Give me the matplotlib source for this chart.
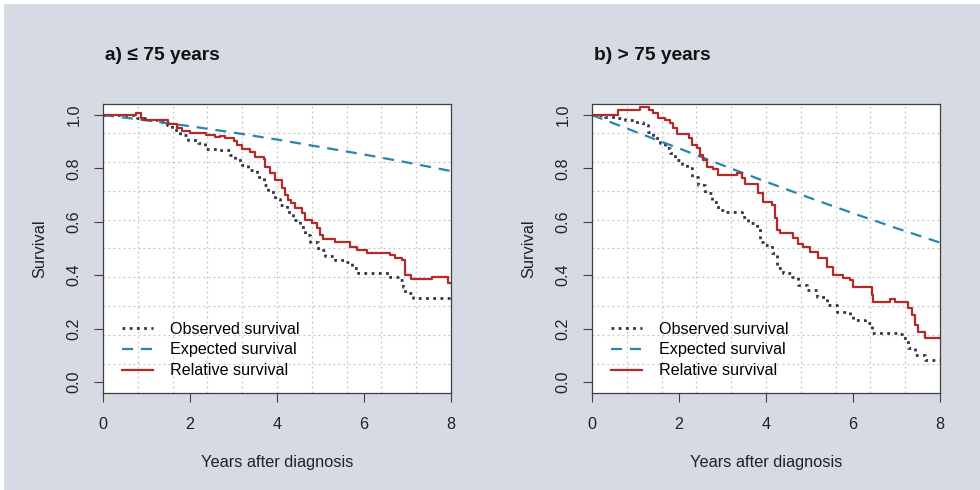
import numpy as np
import matplotlib
matplotlib.use("Agg")
import matplotlib.pyplot as plt
from matplotlib.patches import Rectangle

plt.rcParams['font.family'] = ['Liberation Sans', 'DejaVu Sans']

# expected survival, read at whole years
exp_years = [0, 1, 2, 3, 4, 5, 6, 7, 8]
exp_young = [1.0, 0.98, 0.958, 0.934, 0.908, 0.88, 0.852, 0.822, 0.79]
exp_old = [1.0, 0.937, 0.875, 0.812, 0.75, 0.69, 0.632, 0.576, 0.522]

# panel a) <= 75 years, step curves
obs_young_t = [0, 0.78, 0.97, 1.27, 1.46, 1.58, 1.77, 1.96, 2.19, 2.34, 2.61, 2.92,
               3.03, 3.19, 3.34, 3.53, 3.69, 3.8, 3.95, 4.07, 4.22, 4.37, 4.53, 4.64,
               4.76, 4.95, 5.1, 5.33, 5.6, 5.72, 5.87, 6.6, 6.83, 6.9, 6.94, 7.13,
               7.95, 8.0]
obs_young = [1.0, 0.99, 0.982, 0.975, 0.962, 0.944, 0.925, 0.906, 0.894, 0.874, 0.869, 0.85,
             0.831, 0.813, 0.794, 0.769, 0.738, 0.713, 0.685, 0.663, 0.638, 0.607, 0.582, 0.551,
             0.525, 0.494, 0.472, 0.457, 0.451, 0.426, 0.41, 0.394, 0.382, 0.357, 0.332, 0.313,
             0.305, 0.305]

rel_young_t = [0, 0.76, 0.87, 0.92, 1.5, 1.69, 1.81, 2.0, 2.37, 2.57, 2.68, 2.8, 3.0,
               3.07, 3.19, 3.38, 3.49, 3.69, 3.73, 3.84, 3.95, 4.12, 4.18, 4.26, 4.33,
               4.41, 4.57, 4.64, 4.8, 4.91, 4.99, 5.06, 5.33, 5.68, 5.85, 6.06, 6.6,
               6.71, 6.87, 6.94, 7.09, 7.57, 7.94, 8.0]
rel_young = [1.0, 1.006, 0.99, 0.982, 0.966, 0.953, 0.94, 0.934, 0.925, 0.918, 0.922, 0.912, 0.902,
             0.889, 0.874, 0.862, 0.843, 0.835, 0.806, 0.781, 0.755, 0.725, 0.70, 0.682, 0.669,
             0.65, 0.632, 0.607, 0.594, 0.575, 0.55, 0.534, 0.523, 0.507, 0.494, 0.484, 0.476,
             0.463, 0.457, 0.40, 0.385, 0.392, 0.372, 0.372]

# panel b) > 75 years
obs_old_t = [0, 0.3, 0.57, 0.76, 0.99, 1.18, 1.29, 1.41, 1.56, 1.68, 1.79, 1.91, 2.06,
             2.18, 2.29, 2.44, 2.6, 2.75, 2.9, 3.06, 3.25, 3.44, 3.59, 3.79, 3.86, 3.94,
             4.13, 4.25, 4.4, 4.59, 4.74, 4.94, 5.17, 5.4, 5.63, 5.93, 6.01, 6.28, 6.43,
             7.0, 7.12, 7.27, 7.43, 7.66, 8.0]
obs_old = [1.0, 0.994, 0.988, 0.981, 0.975, 0.963, 0.938, 0.913, 0.894, 0.875, 0.856, 0.831, 0.815,
           0.8, 0.769, 0.738, 0.707, 0.675, 0.644, 0.638, 0.636, 0.619, 0.594, 0.576, 0.525, 0.513,
           0.482, 0.426, 0.407, 0.394, 0.363, 0.345, 0.32, 0.288, 0.263, 0.251, 0.232, 0.22, 0.182,
           0.179, 0.164, 0.126, 0.101, 0.082, 0.082]

rel_old_t = [0, 0.6, 1.1, 1.3, 1.41, 1.52, 1.68, 1.79, 1.87, 1.95, 2.22, 2.31, 2.41, 2.48,
             2.56, 2.64, 2.79, 2.9, 3.33, 3.44, 3.52, 3.82, 3.94, 4.13, 4.21, 4.25, 4.32,
             4.63, 4.74, 4.86, 5.01, 5.2, 5.4, 5.55, 5.78, 5.93, 6.01, 6.43, 6.47, 6.85,
             6.97, 7.27, 7.35, 7.43, 7.5, 7.66, 8.0]
rel_old = [1.0, 1.019, 1.029, 1.019, 1.006, 0.99, 0.981, 0.969, 0.952, 0.928, 0.913, 0.888, 0.875, 0.85,
           0.831, 0.806, 0.798, 0.775, 0.784, 0.763, 0.74, 0.707, 0.675, 0.663, 0.613, 0.569, 0.557,
           0.538, 0.516, 0.507, 0.488, 0.463, 0.432, 0.40, 0.391, 0.382, 0.357, 0.326, 0.298, 0.311,
           0.298, 0.276, 0.251, 0.213, 0.188, 0.164, 0.164]

titles = ["a) \u2264 75 years", "b) > 75 years"]
legend_labels = ["Observed survival", "Expected survival", "Relative survival"]
x_ticks = [0, 2, 4, 6, 8]
y_ticks = [0.0, 0.2, 0.4, 0.6, 0.8, 1.0]

BG = '#d6dae3'
RED = '#b22a2a'
BLUE = '#2a85ad'
DARK = '#2e3446'
BOX = '#404040'


def draw_panel(ax, obs_t, obs, exp_s, rel_t, rel, title):
    xlim = (0, 8)
    ylim = (-0.04, 1.04)
    ax.set_xlim(*xlim)
    ax.set_ylim(*ylim)

    # R-style grid: 10 cells over the plot region
    for gx in np.linspace(xlim[0], xlim[1], 11)[1:-1]:
        ax.axvline(gx, color='#c4c4c4', lw=0.9, ls=(0, (1.5, 2.5)), zorder=0)
    for gy in np.linspace(ylim[0], ylim[1], 11)[1:-1]:
        ax.axhline(gy, color='#c4c4c4', lw=0.9, ls=(0, (1.5, 2.5)), zorder=0)

    ax.plot(obs_t, obs, drawstyle='steps-post', color=DARK, lw=2.0,
            ls=(0, (1, 1.6)), label=legend_labels[0])
    ax.plot(exp_years, exp_s, color=BLUE, lw=1.6, ls=(0, (5, 3.5)),
            label=legend_labels[1])
    ax.plot(rel_t, rel, drawstyle='steps-post', color=RED, lw=1.6,
            label=legend_labels[2])

    ax.set_xticks(x_ticks)
    ax.set_xticklabels([str(v) for v in x_ticks])
    ax.set_yticks(y_ticks)
    ax.set_yticklabels(["%.1f" % v for v in y_ticks], rotation=90, va='center')
    ax.tick_params(axis='both', length=6.5, width=0.8, color=BOX, labelsize=11.6,
                   labelcolor='#222222')
    ax.tick_params(axis='x', pad=11)
    ax.tick_params(axis='y', pad=9)
    for sp in ax.spines.values():
        sp.set_color(BOX)
        sp.set_linewidth(0.9)

    ax.set_xlabel("Years after diagnosis", fontsize=11.8, labelpad=16.5, color='#222222')
    ax.set_ylabel("Survival", fontsize=11.8, labelpad=14, color='#222222')

    ax.text(0.005, 1.17, title, transform=ax.transAxes, fontsize=13.8,
            fontweight='bold', ha='left', va='center', color='#111111')

    ax.legend(loc='lower left', bbox_to_anchor=(0.012, 0.0), frameon=False,
              fontsize=11.6, handlelength=1.95, handletextpad=1.05, labelspacing=0.36)


def main():
    fig = plt.figure(figsize=(9.8, 4.9), dpi=100, facecolor='white')
    fig.patches.append(Rectangle((4 / 980, 0), 976 / 980, 486 / 490,
                                 transform=fig.transFigure, facecolor=BG,
                                 edgecolor='none', zorder=-10))

    ax1 = fig.add_axes([103 / 980, 97.3 / 490, 348 / 980, 288.4 / 490])
    ax2 = fig.add_axes([592 / 980, 97.3 / 490, 348 / 980, 288.4 / 490])

    draw_panel(ax1, obs_young_t, obs_young, exp_young, rel_young_t, rel_young, titles[0])
    draw_panel(ax2, obs_old_t, obs_old, exp_old, rel_old_t, rel_old, titles[1])

    fig.savefig("out.png", dpi=100, facecolor=fig.get_facecolor())


if __name__ == '__main__':
    main()
